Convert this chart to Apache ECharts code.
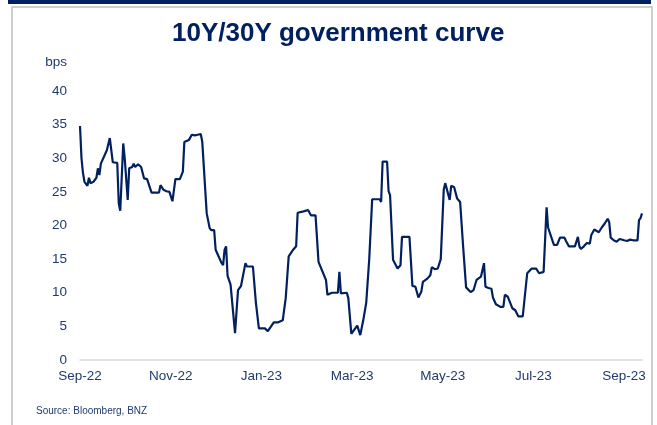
<!DOCTYPE html>
<html>
<head>
<meta charset="utf-8">
<title>10Y/30Y government curve</title>
<script src="https://cdn.jsdelivr.net/npm/echarts@6/dist/echarts.min.js"></script>
<style>
    html, body { margin: 0; padding: 0; background: #fff; }
    #chart { width: 657px; height: 425px; }
</style>
</head>
<body>
<div id="chart"></div>
<script>
    var dates = [
        '2022-09-01', '2022-09-02', '2022-09-03', '2022-09-04', '2022-09-06', '2022-09-07', '2022-09-08', '2022-09-10',
        '2022-09-12', '2022-09-13', '2022-09-14', '2022-09-15', '2022-09-16', '2022-09-19', '2022-09-21', '2022-09-22',
        '2022-09-23', '2022-09-26', '2022-09-27', '2022-09-28', '2022-09-30', '2022-10-01', '2022-10-03', '2022-10-04',
        '2022-10-06', '2022-10-07', '2022-10-08', '2022-10-10', '2022-10-12', '2022-10-14', '2022-10-16', '2022-10-17',
        '2022-10-19', '2022-10-24', '2022-10-25', '2022-10-27', '2022-10-29', '2022-10-31', '2022-11-02', '2022-11-04',
        '2022-11-07', '2022-11-09', '2022-11-10', '2022-11-13', '2022-11-15', '2022-11-17', '2022-11-19', '2022-11-21',
        '2022-11-22', '2022-11-25', '2022-11-27', '2022-11-28', '2022-11-30', '2022-12-01', '2022-12-03', '2022-12-05',
        '2022-12-06', '2022-12-07', '2022-12-08', '2022-12-09', '2022-12-11', '2022-12-14', '2022-12-16', '2022-12-18',
        '2022-12-21', '2022-12-22', '2022-12-26', '2022-12-28', '2022-12-30', '2023-01-03', '2023-01-05', '2023-01-09',
        '2023-01-12', '2023-01-15', '2023-01-17', '2023-01-19', '2023-01-22', '2023-01-24', '2023-01-25', '2023-01-29',
        '2023-02-01', '2023-02-02', '2023-02-03', '2023-02-06', '2023-02-08', '2023-02-09', '2023-02-13', '2023-02-14',
        '2023-02-17', '2023-02-21', '2023-02-22', '2023-02-23', '2023-02-27', '2023-02-28', '2023-03-02', '2023-03-06',
        '2023-03-07', '2023-03-08', '2023-03-10', '2023-03-12', '2023-03-14', '2023-03-16', '2023-03-21', '2023-03-22',
        '2023-03-23', '2023-03-26', '2023-03-27', '2023-03-28', '2023-03-30', '2023-04-02', '2023-04-04', '2023-04-05',
        '2023-04-10', '2023-04-12', '2023-04-14', '2023-04-16', '2023-04-18', '2023-04-19', '2023-04-22', '2023-04-24',
        '2023-04-25', '2023-04-27', '2023-04-29', '2023-05-01', '2023-05-03', '2023-05-04', '2023-05-07', '2023-05-08',
        '2023-05-10', '2023-05-12', '2023-05-14', '2023-05-16', '2023-05-18', '2023-05-21', '2023-05-23', '2023-05-25',
        '2023-05-28', '2023-05-30', '2023-05-31', '2023-06-02', '2023-06-04', '2023-06-05', '2023-06-07', '2023-06-10',
        '2023-06-12', '2023-06-13', '2023-06-15', '2023-06-18', '2023-06-20', '2023-06-22', '2023-06-25', '2023-06-28',
        '2023-07-01', '2023-07-04', '2023-07-06', '2023-07-09', '2023-07-11', '2023-07-12', '2023-07-13', '2023-07-15',
        '2023-07-16', '2023-07-18', '2023-07-20', '2023-07-23', '2023-07-24', '2023-07-26', '2023-07-30', '2023-08-01',
        '2023-08-02', '2023-08-03', '2023-08-05', '2023-08-07', '2023-08-09', '2023-08-10', '2023-08-12', '2023-08-15',
        '2023-08-17', '2023-08-19', '2023-08-21', '2023-08-22', '2023-08-23', '2023-08-25', '2023-08-27', '2023-08-29',
        '2023-09-01', '2023-09-03', '2023-09-05', '2023-09-07', '2023-09-10', '2023-09-11', '2023-09-12', '2023-09-13'
    ];
    var spread = [
        34.8, 30.0, 27.8, 26.5, 25.9, 27.1, 26.3, 26.5,
        27.1, 28.5, 27.5, 29.2, 29.2, 31.2, 33.0, 33.0,
        29.4, 29.3, 23.3, 22.2, 32.2, 30.0, 23.8, 28.5,
        28.7, 29.2, 28.7, 29.1, 28.7, 27.0, 26.9, 27.1,
        24.9, 24.9, 26.0, 25.3, 25.1, 25.0, 23.6, 26.9,
        26.9, 28.0, 32.4, 32.7, 33.5, 33.4, 33.5, 33.6,
        32.5, 21.8, 19.6, 19.3, 19.3, 16.4, 15.4, 14.4,
        14.1, 16.4, 16.9, 12.5, 11.2, 4.0, 10.4, 11.0,
        14.4, 13.9, 13.9, 8.5, 4.7, 4.7, 4.3, 5.6,
        5.6, 5.9, 9.2, 15.4, 16.4, 16.9, 21.9, 22.1,
        22.3, 22.5, 21.5, 21.5, 14.6, 14.6, 11.9, 9.7,
        10.0, 10.0, 13.1, 9.9, 10.0, 9.2, 3.9, 5.1,
        5.2, 3.7, 5.9, 8.5, 14.9, 23.9, 23.9, 23.5,
        29.5, 29.5, 25.1, 24.5, 14.9, 13.6, 14.1, 18.3,
        18.3, 11.0, 10.9, 9.3, 10.2, 11.6, 12.1, 12.6,
        13.8, 13.5, 13.6, 15.0, 25.3, 26.3, 23.8, 25.9,
        25.7, 24.0, 23.5, 16.9, 10.8, 10.1, 10.4, 11.9,
        12.4, 14.4, 10.9, 10.7, 10.6, 9.3, 8.3, 7.9,
        7.9, 9.7, 9.4, 7.7, 7.4, 6.5, 6.5, 12.9,
        13.6, 13.6, 12.9, 13.1, 22.7, 19.7, 19.6, 17.7,
        17.1, 17.1, 18.2, 18.2, 17.7, 16.9, 16.9, 18.3,
        16.9, 16.5, 16.9, 17.4, 17.3, 18.6, 19.4, 19.0,
        19.7, 20.3, 21.0, 20.5, 18.2, 17.8, 17.6, 18.0,
        17.8, 17.7, 17.9, 17.8, 17.8, 20.8, 21.1, 21.8
    ];
    var tickLabels = ['Sep-22', 'Nov-22', 'Jan-23', 'Mar-23', 'May-23', 'Jul-23', 'Sep-23'];

    var startDate = Date.parse('2022-09-01');
    var lastDay = 377;        // axis runs to mid Sep-23
    var tickStep = 365 / 6;   // two months, near enough

    var points = dates.map(function(d, i) {
        return [(Date.parse(d) - startDate) / 864e5, spread[i]];
    });

    var navy = '#002060';
    var labelColor = '#1f3a6e';

    var myChart = echarts.init(document.getElementById('chart'));
    var option = {
        backgroundColor: '#fff',
        animation: false,
        title: {
            text: '10Y/30Y government curve',
            left: 167,
            top: 16,
            textStyle: {
                fontFamily: 'Liberation Sans',
                fontWeight: 'bold',
                fontSize: 26,
                color: navy
            }
        },
        graphic: [{
            type: 'rect',
            shape: { x: 8, y: 0, width: 643, height: 4 },
            style: { fill: navy }
        }, {
            type: 'rect',
            shape: { x: 12, y: 7, width: 640, height: 440 },
            style: { fill: 'none', stroke: '#bfbfbf', lineWidth: 1.5 }
        }, {
            type: 'text',
            left: 36,
            top: 406,
            style: {
                text: 'Source: Bloomberg, BNZ',
                fontFamily: 'Liberation Sans',
                fontSize: 10,
                fill: labelColor
            }
        }],
        grid: {
            left: 80,
            right: 15,
            top: 91,
            bottom: 65
        },
        xAxis: {
            type: 'value',
            min: 0,
            max: lastDay,
            interval: tickStep,
            splitLine: { show: false },
            axisTick: { show: false },
            axisLine: {
                show: true,
                onZero: false,
                lineStyle: { color: '#d9d9d9', width: 1.5 }
            },
            axisLabel: {
                margin: 9,
                fontFamily: 'Liberation Sans',
                fontSize: 13.5,
                color: labelColor,
                showMaxLabel: true,
                formatter: function(v) {
                    var k = v / tickStep;
                    var r = Math.round(k);
                    if (Math.abs(k - r) > 0.01) return '';
                    return tickLabels[r] || '';
                }
            }
        },
        yAxis: {
            type: 'value',
            min: 0,
            max: 40,
            interval: 5,
            name: 'bps',
            nameLocation: 'end',
            nameGap: 22,
            nameTextStyle: {
                align: 'right',
                padding: [0, 13, 0, 0],
                fontFamily: 'Liberation Sans',
                fontSize: 13.5,
                color: labelColor
            },
            splitLine: { show: false },
            axisTick: { show: false },
            axisLine: { show: false },
            axisLabel: {
                margin: 13,
                fontFamily: 'Liberation Sans',
                fontSize: 13.5,
                color: labelColor
            }
        },
        series: [{
            name: '10Y/30Y',
            type: 'line',
            showSymbol: false,
            smooth: false,
            lineStyle: { color: navy, width: 2.2 },
            data: points
        }]
    };
    myChart.setOption(option);
</script>
</body>
</html>
